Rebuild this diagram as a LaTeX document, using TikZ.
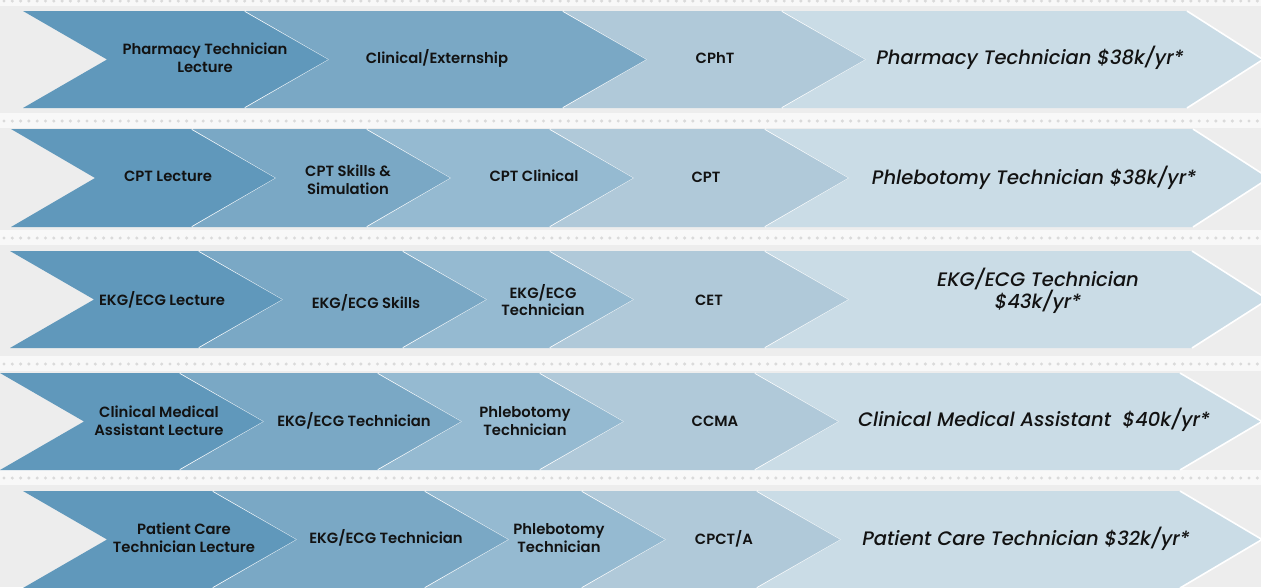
\documentclass[tikz,border=0pt]{standalone}
\usepackage{fontspec}
\setmainfont{Poppins}[UprightFont={* SemiBold}, ItalicFont={* Medium Italic}]
\definecolor{bgc}{HTML}{EDEDED}
\definecolor{bandc}{HTML}{F8F8F8}
\definecolor{dotc}{HTML}{DADADA}
\definecolor{ca}{HTML}{6098BB}
\definecolor{cb}{HTML}{7AA8C5}
\definecolor{cc}{HTML}{95BAD1}
\definecolor{cd}{HTML}{B0C9D9}
\definecolor{ce}{HTML}{CADCE6}
\definecolor{txt}{HTML}{121212}
\tikzset{
  edgeline/.style={draw=white, line width=1.6pt, line join=miter},
  lab/.style={text=txt, font=\fontsize{14.8}{17.5}\selectfont, align=center, inner sep=0pt},
  goal/.style={text=txt, font=\fontsize{19.5}{22}\selectfont\itshape, align=center, inner sep=0pt},
  dotsep/.style={draw=dotc, line width=3.4pt, line cap=round, dash pattern=on 0pt off 8.3pt},
}
% #1 top y, #2 bottom y, #3 left x, #4 right x, #5 colour, #6 point depth
\newcommand\chevshape[6]{%
  \fill[#5] (#3,#1) -- (#4,#1) -- ({#4+#6},{(#1+#2)/2}) -- (#4,#2) -- (#3,#2) -- ({#3+84},{(#1+#2)/2}) -- cycle;
  \draw[edgeline] (#4,#1) -- ({#4+#6},{(#1+#2)/2}) -- (#4,#2);}
\newcommand\sepband[1]{%
  \fill[bandc] (0,{#1-8}) rectangle (1261,{#1+7});
  \draw[dotsep] (4,#1) -- (1261,#1);}
\begin{document}
\begin{tikzpicture}[x=1pt,y=-1pt]
\useasboundingbox (0,0) rectangle (1261,587);
\fill[bgc] (0,0) rectangle (1261,587);
\fill[bandc] (0,0) rectangle (1261,6);
\draw[dotsep] (4,1) -- (1261,1);
\sepband{121}
\sepband{238}
\sepband{364}
\sepband{478}

% Row 1
\chevshape{11}{108}{23}{245}{ca}{85}
\chevshape{11}{108}{245}{563}{cb}{85}
\chevshape{11}{108}{563}{782}{cd}{85}
\chevshape{11}{108}{782}{1187}{ce}{76}
% Row 2
\chevshape{129}{227}{11}{192}{ca}{85}
\chevshape{129}{227}{192}{367}{cb}{85}
\chevshape{129}{227}{367}{550}{cc}{85}
\chevshape{129}{227}{550}{765}{cd}{85}
\chevshape{129}{227}{765}{1193}{ce}{76}
% Row 3
\chevshape{251}{348}{10}{199}{ca}{85}
\chevshape{251}{348}{199}{403}{cb}{85}
\chevshape{251}{348}{403}{550}{cc}{85}
\chevshape{251}{348}{550}{765}{cd}{85}
\chevshape{251}{348}{765}{1192}{ce}{76}
% Row 4
\chevshape{373}{470}{0}{180}{ca}{85}
\chevshape{373}{470}{180}{378}{cb}{85}
\chevshape{373}{470}{378}{540}{cc}{85}
\chevshape{373}{470}{540}{755}{cd}{85}
\chevshape{373}{470}{755}{1180}{ce}{82}
% Row 5
\chevshape{491}{588}{23}{213}{ca}{85}
\chevshape{491}{588}{213}{425}{cb}{85}
\chevshape{491}{588}{425}{582}{cc}{85}
\chevshape{491}{588}{582}{757}{cd}{85}
\chevshape{491}{588}{757}{1180}{ce}{82}

% Texts row 1
\node[lab] (r1a) at (205,58) {Pharmacy Technician\\Lecture};
\node[lab] (r1b) at (437,58) {Clinical/Externship};
\node[lab] (r1c) at (715,58) {CPhT};
\node[goal] (r1d) at (1030,58) {Pharmacy Technician \$38k/yr*};
% Texts row 2
\node[lab] (r2a) at (168,176) {CPT Lecture};
\node[lab] (r2b) at (348,180) {CPT Skills \&\\Simulation};
\node[lab] (r2c) at (534,176) {CPT Clinical};
\node[lab] (r2d) at (706,177) {CPT};
\node[goal] (r2e) at (1034,178) {Phlebotomy Technician \$38k/yr*};
% Texts row 3
\node[lab] (r3a) at (162,300) {EKG/ECG Lecture};
\node[lab] (r3b) at (366,303) {EKG/ECG Skills};
\node[lab] (r3c) at (543,300) {EKG/ECG\\Technician};
\node[lab] (r3d) at (709,300) {CET};
\node[goal] (r3e) at (1038,291) {EKG/ECG Technician\\\$43k/yr*};
% Texts row 4
\node[lab] (r4a) at (159,421) {Clinical Medical\\Assistant Lecture};
\node[lab] (r4b) at (354,421) {EKG/ECG Technician};
\node[lab] (r4c) at (525,421) {Phlebotomy\\Technician};
\node[lab] (r4d) at (715,421) {CCMA};
\node[goal] (r4e) at (1034,420) {Clinical Medical Assistant\ \ \$40k/yr*};
% Texts row 5
\node[lab] (r5a) at (184,538) {Patient Care\\Technician Lecture};
\node[lab] (r5b) at (386,538) {EKG/ECG Technician};
\node[lab] (r5c) at (559,538) {Phlebotomy\\Technician};
\node[lab] (r5d) at (724,539) {CPCT/A};
\node[goal] (r5e) at (1026,539) {Patient Care Technician \$32k/yr*};
\end{tikzpicture}
\end{document}
